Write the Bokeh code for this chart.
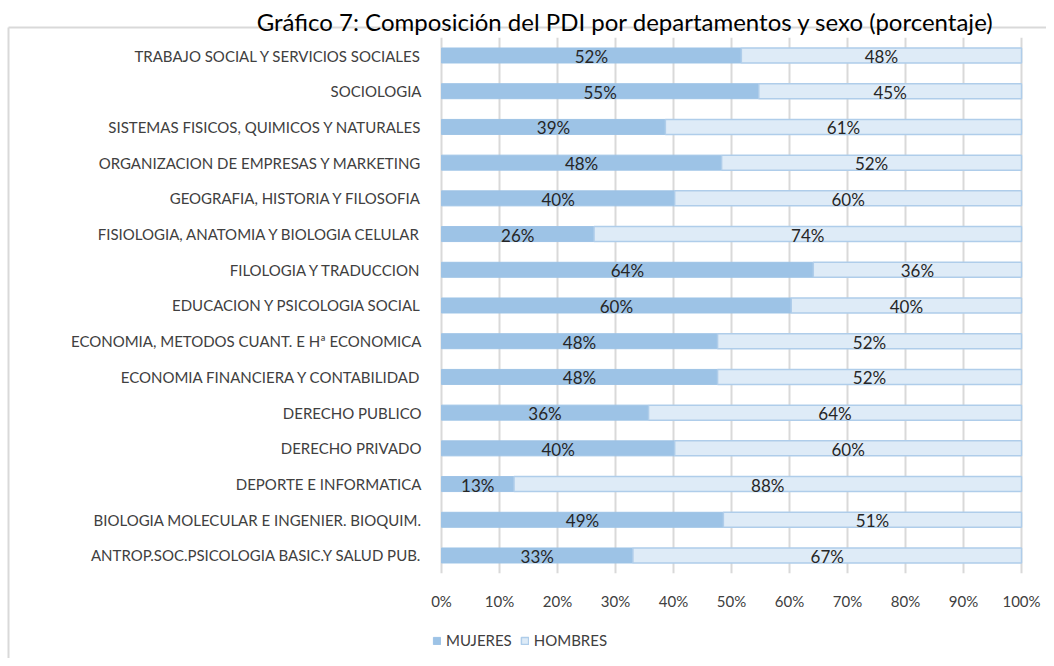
from bokeh.plotting import figure
from bokeh.models import Range1d, Legend, LegendItem, ColumnDataSource, FixedTicker, Label
from bokeh.core.properties import value
from bokeh.embed import file_html
from bokeh.resources import INLINE

titulo = "Gráfico 7: Composición del PDI por departamentos y sexo (porcentaje)"

departamentos = [
    "TRABAJO SOCIAL Y SERVICIOS SOCIALES",
    "SOCIOLOGIA",
    "SISTEMAS FISICOS, QUIMICOS Y NATURALES",
    "ORGANIZACION DE EMPRESAS Y MARKETING",
    "GEOGRAFIA, HISTORIA Y FILOSOFIA",
    "FISIOLOGIA, ANATOMIA Y BIOLOGIA CELULAR",
    "FILOLOGIA Y TRADUCCION",
    "EDUCACION Y PSICOLOGIA SOCIAL",
    "ECONOMIA, METODOS CUANT. E Hª ECONOMICA",
    "ECONOMIA FINANCIERA Y CONTABILIDAD",
    "DERECHO PUBLICO",
    "DERECHO PRIVADO",
    "DEPORTE E INFORMATICA",
    "BIOLOGIA MOLECULAR E INGENIER. BIOQUIM.",
    "ANTROP.SOC.PSICOLOGIA BASIC.Y SALUD PUB.",
]
mujeres = [51.7, 54.7, 38.6, 48.3, 40.2, 26.3, 64.1, 60.3, 47.6, 47.6, 35.7, 40.2, 12.5, 48.6, 33.0]
hombres = [48.3, 45.3, 61.4, 51.7, 59.8, 73.7, 35.9, 39.7, 52.4, 52.4, 64.3, 59.8, 87.5, 51.4, 67.0]
series = ["MUJERES", "HOMBRES"]
tick_values = [0, 10, 20, 30, 40, 50, 60, 70, 80, 90, 100]
tick_labels = ["0%", "10%", "20%", "30%", "40%", "50%", "60%", "70%", "80%", "90%", "100%"]

FONT = "Lato"
C_MUJ = "#9DC3E6"
C_HOM = "#DEEBF7"
C_GRID = "#D9D9D9"

# ---- layout geometry (pixels) ----
W, H = 1046, 658
X0_PX, X100_PX = 441, 1021          # 0% and 100% positions
ROW0_PX, ROW_STEP = 55.0, 35.714    # first row centre, row spacing
PX_PER_PCT = (X100_PX - X0_PX) / 100.0


def dx(px):
    return (px - X0_PX) / PX_PER_PCT


def dy(py):
    return (py - ROW0_PX) / ROW_STEP


def pct(v):
    return "%d%%" % int(v + 0.5)


n = len(departamentos)
rows = list(range(n))

src = ColumnDataSource(dict(
    row=rows,
    muj=mujeres,
    hom=hombres,
    tot=[m + h for m, h in zip(mujeres, hombres)],
    muj_mid=[m / 2 for m in mujeres],
    hom_mid=[m + h / 2 for m, h in zip(mujeres, hombres)],
    muj_lbl=[pct(m) for m in mujeres],
    hom_lbl=[pct(h) for h in hombres],
))

p = figure(
    width=W, height=H,
    x_range=Range1d(dx(0), dx(W)),
    y_range=Range1d(dy(H), dy(0)),
    output_backend="svg", toolbar_location=None,
    min_border_left=0, min_border_right=0, min_border_top=0, min_border_bottom=0,
)
p.outline_line_color = None
p.background_fill_color = "white"
p.border_fill_color = "white"
p.grid.visible = False

# chart border (light grey box, open on the right)
p.segment(x0=[dx(8), dx(8)], y0=[dy(27), dy(27)], x1=[dx(8), dx(W + 20)],
          y1=[dy(H + 20), dy(27)], line_color=C_GRID, line_width=2)

# vertical grid lines spanning the category area
p.segment(x0=tick_values, x1=tick_values, y0=[-0.5] * len(tick_values),
          y1=[n - 0.5] * len(tick_values), line_color=C_GRID, line_width=2)

# axes placed at fixed locations inside the frame
p.xaxis.fixed_location = n - 0.5
p.xaxis.ticker = FixedTicker(ticks=tick_values)
p.xaxis.major_label_overrides = {v: l for v, l in zip(tick_values, tick_labels)}
p.xaxis.major_label_standoff = 13

p.yaxis.fixed_location = 0
p.yaxis.ticker = FixedTicker(ticks=rows)
p.yaxis.major_label_overrides = {i: d for i, d in zip(rows, departamentos)}
p.yaxis.major_label_standoff = 14

for ax in (p.xaxis, p.yaxis):
    ax.axis_line_color = None
    ax.major_tick_line_color = None
    ax.minor_tick_line_color = None
    ax.minor_tick_out = 0
    ax.major_label_text_font = FONT
    ax.major_label_text_font_size = "15px"
    ax.major_label_text_color = "#404040"

r1 = p.hbar(y="row", left=0, right="muj", height=0.42, source=src,
            fill_color=C_MUJ, line_color=C_MUJ, line_width=1)
r2 = p.hbar(y="row", left="muj", right="tot", height=0.42, source=src,
            fill_color=C_HOM, line_color="#AFCDEA", line_width=1.5)

for xcol, tcol in (("muj_mid", "muj_lbl"), ("hom_mid", "hom_lbl")):
    p.text(x=xcol, y="row", text=tcol, source=src, text_align="center",
           text_baseline="middle", text_font=value(FONT), text_font_size="17px",
           text_color="#262626", y_offset=1)

p.add_layout(Label(x=dx(625), y=dy(21), text=titulo, text_align="center",
                   text_baseline="alphabetic", text_font=FONT, text_font_size="24px",
                   text_color="#000000"))

legend = Legend(
    items=[LegendItem(label=series[0], renderers=[r1]),
           LegendItem(label=series[1], renderers=[r2])],
    location=(432, 9), orientation="horizontal",
    border_line_color=None, background_fill_alpha=0,
    padding=0, margin=0, spacing=8, label_standoff=5,
    glyph_width=9, glyph_height=9, label_height=16,
    label_text_font=FONT, label_text_font_size="15px", label_text_color="#404040",
)
p.add_layout(legend)

open("out.html", "w").write(file_html(p, INLINE))
